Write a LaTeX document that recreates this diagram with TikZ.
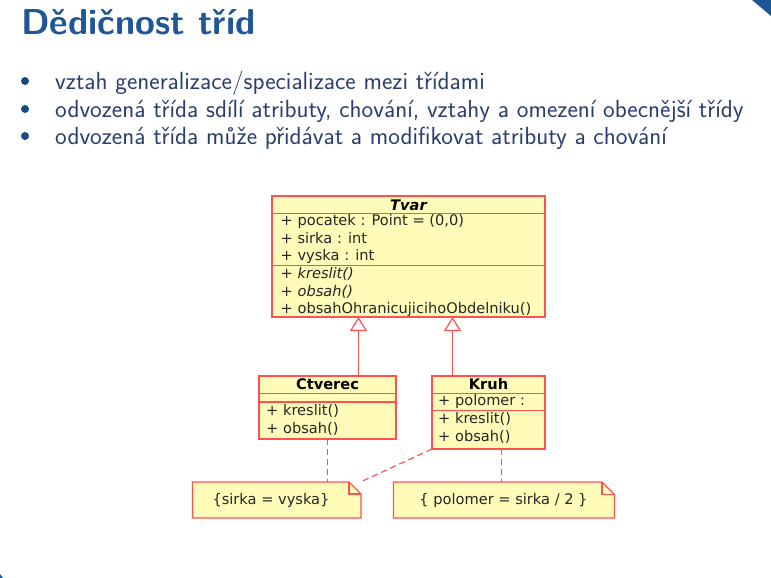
\documentclass[tikz,border=0pt]{standalone}
\usepackage{fontspec}
\newfontfamily\umlfont{DejaVu Sans}
\usetikzlibrary{arrows.meta}
\definecolor{titleblue}{RGB}{30,86,150}
\definecolor{textblue}{RGB}{44,62,112}
\definecolor{umlred}{RGB}{255,80,80}
\definecolor{umlfill}{RGB}{255,252,185}
\newcommand{\umlsize}{\fontsize{14.6}{17}\selectfont}
\tikzset{
  x=1pt, y=-1pt,
  umlbox/.style={draw=umlred, fill=umlfill, line width=1.2pt},
  umlsep/.style={draw=umlred, line width=1.2pt},
  umltext/.style={font=\umlfont\umlsize, anchor=west, inner sep=0pt, text=black!85},
  umltitle/.style={font=\umlfont\bfseries\umlsize, inner sep=0pt, text=black},
  notetext/.style={font=\umlfont\umlsize, text=black!85, inner sep=0pt},
  inherit/.style={draw=umlred, line width=1.2pt, -{Triangle[open, length=14pt, width=17pt, fill=white]}},
  anchorline/.style={draw=umlred, line width=1.2pt, dash pattern=on 6pt off 4pt},
  bullettext/.style={font=\sffamily\fontsize{24.8}{29}\selectfont, text=textblue, anchor=base west, inner sep=0pt},
  bulletdot/.style={fill=titleblue!85!black, draw=none, circle, minimum size=8pt, inner sep=0pt},
}
\begin{document}
\begin{tikzpicture}
\useasboundingbox (0,0) rectangle (771,578);
% slide decorations
\fill[titleblue] (752,0) -- (771,0) -- (771,16) -- cycle;
\fill[titleblue] (0,574) -- (3,578) -- (0,578) -- cycle;

% title and bullet points
\node[font=\sffamily\bfseries\fontsize{36}{40}\selectfont, text=titleblue, anchor=base west, inner sep=0pt] (title) at (21,35) {Dědičnost tříd};
\node[bulletdot] (b1) at (25,81) {};
\node[bulletdot] (b2) at (25,109) {};
\node[bulletdot] (b3) at (25,136) {};
\node[bullettext] (t1) at (55,89) {vztah generalizace/specializace mezi třídami};
\node[bullettext] (t2) at (55,117) {odvozená třída sdílí atributy, chování, vztahy a omezení obecnější třídy};
\node[bullettext] (t3) at (55,144) {odvozená třída může přidávat a modifikovat atributy a chování};

% class Tvar
\path[umlbox] (272,196) rectangle (545,317);
\draw[umlsep] (272,213.3) -- (545,213.3);
\draw[umlsep] (272,265.5) -- (545,265.5);
\node[umltitle, font=\umlfont\bfseries\itshape\umlsize] (tvar) at (408.5,204.8) {Tvar};
\node[umltext] (a1) at (280.5,221) {+ pocatek : Point = (0,0)};
\node[umltext] (a2) at (280.5,238.5) {+ sirka : int};
\node[umltext] (a3) at (280.5,256) {+ vyska : int};
\node[umltext] (o1) at (280.5,273.5) {+ \textit{kreslit()}};
\node[umltext] (o2) at (280.5,291.5) {+ \textit{obsah()}};
\node[umltext] (o3) at (280.5,309) {+ obsahOhranicujicihoObdelniku()};

% class Ctverec
\path[umlbox] (259,376) rectangle (396,439);
\draw[umlsep] (259,393.3) -- (396,393.3);
\draw[umlsep] (259,402) -- (396,402);
\node[umltitle] (ctverec) at (327.5,384.5) {Ctverec};
\node[umltext] (c1) at (266,410.5) {+ kreslit()};
\node[umltext] (c2) at (266,428.5) {+ obsah()};

% class Kruh
\path[umlbox] (432,376) rectangle (545,449);
\draw[umlsep] (432,393.3) -- (545,393.3);
\draw[umlsep] (432,410.7) -- (545,410.7);
\node[umltitle] (kruh) at (488.5,384.5) {Kruh};
\node[umltext] (k0) at (438,401.8) {+ polomer :};
\node[umltext] (k1) at (438,419) {+ kreslit()};
\node[umltext] (k2) at (438,437) {+ obsah()};

% generalisation arrows
\coordinate (ctTop) at (358.5,376);
\coordinate (ctTip) at (358.5,317);
\coordinate (krTop) at (452.5,376);
\coordinate (krTip) at (452.5,317);
\draw[inherit] (ctTop) -- (ctTip);
\draw[inherit] (krTop) -- (krTip);

% constraint notes
\path[umlbox] (192.5,482) -- (349,482) -- (361,494) -- (361,518) -- (192.5,518) -- cycle;
\draw[umlsep] (349,482) -- (349,494) -- (361,494);
\node[notetext] (n1) at (271,500.5) {\{sirka = vyska\}};
\path[umlbox] (393.5,482) -- (602,482) -- (614.5,494.5) -- (614.5,518) -- (393.5,518) -- cycle;
\draw[umlsep] (602,482) -- (602,494.5) -- (614.5,494.5);
\node[notetext] (n2) at (503.5,500.5) {\{ polomer = sirka / 2 \}};

% note anchors
\coordinate (ctB) at (327.7,439);
\coordinate (n1T) at (327.7,482);
\coordinate (krBL) at (432,449);
\coordinate (n1R) at (361.5,481.5);
\coordinate (krB) at (501.7,449);
\coordinate (n2T) at (501.7,482);
\draw[anchorline] (ctB) -- (n1T);
\draw[anchorline] (krBL) -- (n1R);
\draw[anchorline] (krB) -- (n2T);
\end{tikzpicture}
\end{document}
